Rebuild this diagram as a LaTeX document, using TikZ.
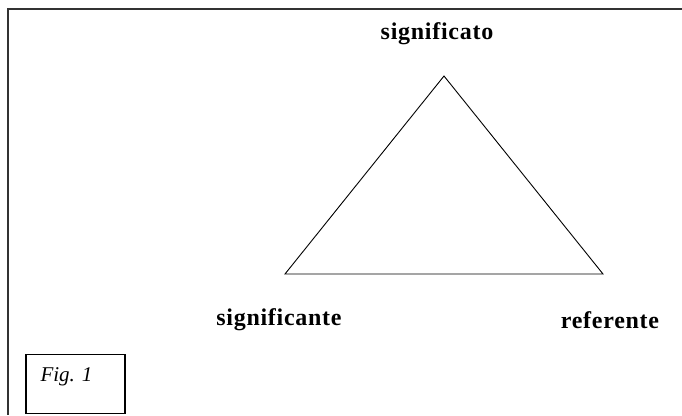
\documentclass[tikz,border=0pt]{standalone}
\usepackage{fontspec}
\setmainfont{Liberation Serif}
\newfontfamily\lblfont[LetterSpace=3]{Liberation Serif}
\begin{document}
\begin{tikzpicture}[x=1pt,y=-1pt]
    \tikzset{lbl/.style={font=\lblfont\fontsize{24}{26}\selectfont\bfseries, inner sep=0pt},
             figbox/.style={draw, line width=1.2pt, minimum width=99pt, minimum height=59pt}}
    \useasboundingbox (0,0) rectangle (682,415);
    % frame (only top and left edges show)
    \coordinate (fc) at (8,9);
    \coordinate (fr) at (682,9);
    \coordinate (fb) at (8,415);
    \draw[line width=1.5pt, black!80] (fr) -- (fc) -- (fb);
    % triangle
    \coordinate (top) at (444,76);
    \coordinate (left) at (285,274);
    \coordinate (right) at (603,274);
    \draw[line width=0.9pt] (top) -- (left) -- (right) -- cycle;
    \node[lbl] (sto) at (437,34) {significato};
    \node[lbl] (ste) at (279,320) {significante};
    \node[lbl] (ref) at (610,320) {referente};
    \node[figbox] (fig) at (75.5,384) {};
    \node[font=\fontsize{21}{23}\selectfont\itshape, anchor=west] (figt) at (37,377) {Fig. 1};
\end{tikzpicture}
\end{document}
